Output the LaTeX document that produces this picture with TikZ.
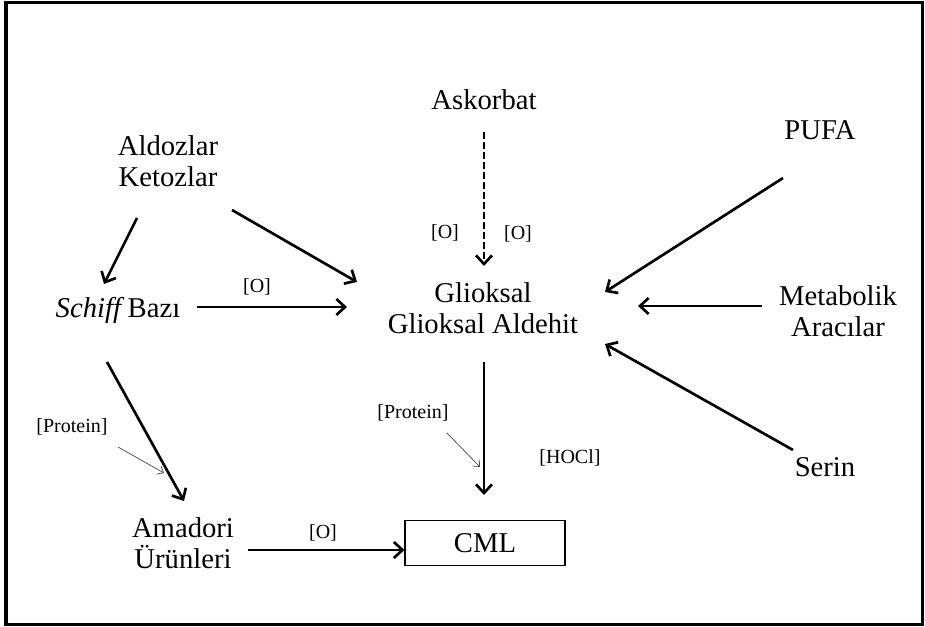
\documentclass[tikz,border=0pt]{standalone}
\usepackage{fontspec}
\setmainfont{Liberation Serif}
\usetikzlibrary{arrows.meta}

\tikzset{term/.style = {align=center, inner sep=0pt, font=\fontsize{21.5}{23.5}\selectfont}}
\tikzset{cond/.style = {inner sep=0pt, font=\fontsize{15}{17}\selectfont}}
\tikzset{prod/.style = {term, draw, line width=0.8pt, minimum width=120pt, minimum height=33.75pt}}
\tikzset{react/.style = {line width=2pt, -{Straight Barb[length=6.5pt,width=12pt]}}}
\tikzset{ox/.style = {react, dash pattern=on 5pt off 2.5pt}}
\tikzset{side/.style = {line width=0.55pt, draw=black!70, -{Straight Barb[length=4pt,width=7pt]}}}

\begin{document}
\begin{tikzpicture}[x=0.75pt, y=-0.75pt]
		\useasboundingbox (0,0) rectangle (925,627);
		\draw[line width=2.6pt] (6,2.5) rectangle (922.5,624.5);
		% Nodes
		\node[term]  (asc) at (484,100) {Askorbat};
		\node[term]  (ald) at (168,161) {Aldozlar\\Ketozlar};
		\node[term] (pufa) at (820,130) {PUFA};
		\node[term]  (sch) at (118,310) {\textit{Schiff}\hspace{0.12em}Bazı};
		\node[term] (glio) at (483,308) {Glioksal\\Glioksal Aldehit};
		\node[term] (meta) at (838,311) {Metabolik\\Aracılar};
		\node[term]  (ser) at (825,467) {Serin};
		\node[term]  (ama) at (183,543) {Amadori\\Ürünleri};
		\node[prod]  (cml) at (485,543) {CML};
		% Conditions
		\node[cond]  (o1) at (445,233) {[O]};
		\node[cond]  (o2) at (518,234) {[O]};
		\node[cond]  (o3) at (257,287) {[O]};
		\node[cond]  (o4) at (323,533) {[O]};
		\node[cond]  (p1) at (72,427)  {[Protein]};
		\node[cond]  (p2) at (413,413) {[Protein]};
		\node[cond] (hocl) at (570,458) {[HOCl]};
		% Arrow ends
		\coordinate (asc-a)  at (484,132); \coordinate (asc-b)  at (484,266);
		\coordinate (ald-a)  at (137,218); \coordinate (ald-b)  at (104,284);
		\coordinate (ald-c)  at (232,210); \coordinate (ald-d)  at (357,282);
		\coordinate (sch-a)  at (197,307); \coordinate (sch-b)  at (347,307);
		\coordinate (sch-c)  at (107,362); \coordinate (sch-d)  at (184,501);
		\coordinate (pufa-a) at (783,178); \coordinate (pufa-b) at (605,292);
		\coordinate (meta-a) at (762,306); \coordinate (meta-b) at (638,306);
		\coordinate (ser-a)  at (793,450); \coordinate (ser-b)  at (605,344);
		\coordinate (glio-a) at (484,362); \coordinate (glio-b) at (484,495);
		\coordinate (ama-a)  at (248,550);
		\coordinate (p1-a)   at (118,447); \coordinate (p1-b)   at (164,473);
		\coordinate (p2-a)   at (447,433); \coordinate (p2-b)   at (480,467);
		% Arrows
		\draw[ox] (asc-a) -- (asc-b);
		\foreach \from/\to in {ald-a/ald-b, ald-c/ald-d, sch-a/sch-b, sch-c/sch-d,
				pufa-a/pufa-b, meta-a/meta-b, ser-a/ser-b, glio-a/glio-b}
			\draw[react] (\from) -- (\to);
		\draw[react] (ama-a) -- (cml.west |- ama-a);
		\foreach \from/\to in {p1-a/p1-b, p2-a/p2-b}
			\draw[side] (\from) -- (\to);
\end{tikzpicture}
\end{document}
